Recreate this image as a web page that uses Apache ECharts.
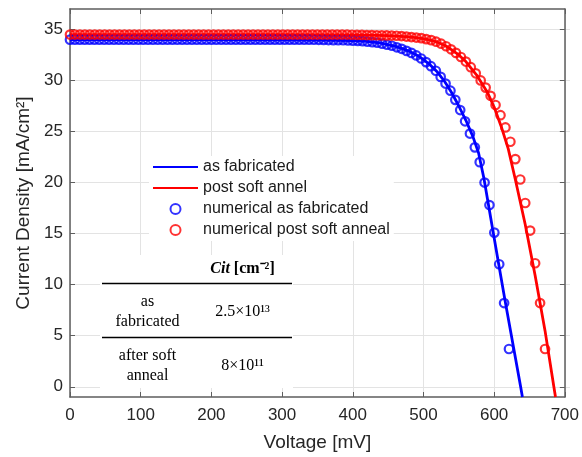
<!DOCTYPE html>
<html>
<head>
<meta charset="utf-8">
<script src="https://cdn.jsdelivr.net/npm/echarts@6/dist/echarts.min.js"></script>
<style>html,body{margin:0;padding:0;background:#fff}#c{width:582px;height:457px}</style>
</head>
<body>
<div id="c"></div>
<script>
// ---- tick labels ----
const xTicks = [0, 100, 200, 300, 400, 500, 600, 700];
const yTicks = [0, 5, 10, 15, 20, 25, 30, 35];

// ---- legend / series names ----
const seriesNames = ['as fabricated', 'post soft annel', 'numerical as fabricated', 'numerical post soft anneal'];

// ---- numerical (circle markers), as fabricated ----
const numFabV = [
  0, 6.9, 13.8, 20.7, 27.6, 34.5, 41.4, 48.3, 55.2, 62.1,
  69, 75.9, 82.8, 89.7, 96.6, 103.5, 110.4, 117.3, 124.2, 131.1,
  138, 144.9, 151.8, 158.7, 165.6, 172.5, 179.4, 186.3, 193.2, 200.1,
  207, 213.9, 220.8, 227.7, 234.6, 241.5, 248.4, 255.3, 262.2, 269.1,
  276, 282.9, 289.8, 296.7, 303.6, 310.5, 317.4, 324.3, 331.2, 338.1,
  345, 351.9, 358.8, 365.7, 372.6, 379.5, 386.4, 393.3, 400.2, 407.1,
  414, 420.9, 427.8, 434.7, 441.6, 448.5, 455.4, 462.3, 469.2, 476.1,
  483, 489.9, 496.8, 503.7, 510.6, 517.5, 524.4, 531.3, 538.2, 545.1,
  552, 558.9, 565.8, 572.7, 579.6, 586.5, 593.4, 600.3, 607.2, 614.1,
  621
];
const numFabJ = [
  34.0, 34.0, 34.0, 34.0, 34.0, 34.0, 34.0, 34.0, 34.0, 34.0,
  34.0, 34.0, 34.0, 34.0, 34.0, 34.0, 34.0, 34.0, 34.0, 34.0,
  34.0, 34.0, 34.0, 34.0, 34.0, 34.0, 34.0, 34.0, 34.0, 34.0,
  34.0, 34.0, 34.0, 34.0, 34.0, 34.0, 34.0, 34.0, 34.0, 34.0,
  34.0, 34.0, 34.0, 34.0, 34.0, 34.0, 34.0, 34.0, 34.0, 34.0,
  33.99, 33.98, 33.97, 33.96, 33.95, 33.95, 33.94, 33.92, 33.9, 33.88,
  33.85, 33.8, 33.75, 33.7, 33.6, 33.5, 33.4, 33.25, 33.1, 32.9,
  32.7, 32.45, 32.15, 31.8, 31.4, 30.95, 30.35, 29.7, 29.0, 28.1,
  27.1, 26.0, 24.8, 23.45, 22.0, 20.0, 17.8, 15.1, 12.0, 8.2,
  3.7
];

// ---- numerical (circle markers), post soft anneal ----
const numAnnV = [
  0, 7, 14, 21, 28, 35, 42, 49, 56, 63,
  70, 77, 84, 91, 98, 105, 112, 119, 126, 133,
  140, 147, 154, 161, 168, 175, 182, 189, 196, 203,
  210, 217, 224, 231, 238, 245, 252, 259, 266, 273,
  280, 287, 294, 301, 308, 315, 322, 329, 336, 343,
  350, 357, 364, 371, 378, 385, 392, 399, 406, 413,
  420, 427, 434, 441, 448, 455, 462, 469, 476, 483,
  490, 497, 504, 511, 518, 525, 532, 539, 546, 553,
  560, 567, 574, 581, 588, 595, 602, 609, 616, 623,
  630, 637, 644, 651, 658, 665, 672
];
const numAnnJ = [
  34.5, 34.5, 34.5, 34.5, 34.5, 34.5, 34.5, 34.5, 34.5, 34.5,
  34.5, 34.5, 34.5, 34.5, 34.5, 34.5, 34.5, 34.5, 34.5, 34.5,
  34.5, 34.5, 34.5, 34.5, 34.5, 34.5, 34.5, 34.5, 34.5, 34.5,
  34.5, 34.5, 34.5, 34.5, 34.5, 34.5, 34.5, 34.5, 34.5, 34.5,
  34.5, 34.5, 34.5, 34.5, 34.5, 34.5, 34.5, 34.5, 34.5, 34.5,
  34.5, 34.5, 34.5, 34.5, 34.5, 34.5, 34.5, 34.48, 34.47, 34.46,
  34.45, 34.44, 34.43, 34.42, 34.41, 34.4, 34.38, 34.35, 34.3, 34.25,
  34.2, 34.15, 34.05, 33.95, 33.8, 33.6, 33.35, 33.05, 32.7, 32.3,
  31.85, 31.3, 30.7, 30.0, 29.3, 28.5, 27.6, 26.6, 25.4, 24.0,
  22.3, 20.3, 18.0, 15.3, 12.1, 8.2, 3.7
];

// ---- fitted lines ----
const lineFabV = [0, 200, 300, 350, 400, 420, 440, 460, 470, 480, 490, 500, 510, 520, 530, 540, 550, 560, 570, 578, 585.6, 597.5, 605.5, 615.3, 627.6, 637.5, 640];
const lineFabJ = [34.0, 34.0, 33.98, 33.96, 33.9, 33.82, 33.65, 33.35, 33.12, 32.85, 32.5, 32.05, 31.5, 30.8, 29.9, 28.8, 27.5, 26.1, 24.5, 22.9, 20.4, 15.6, 12.4, 8.5, 3.8, 0, -1];
const lineAnnV = [0, 300, 400, 450, 480, 500, 510, 520, 530, 540, 550, 560, 575, 590, 600, 610, 620, 630, 644, 658, 672, 684.5, 686.8];
const lineAnnJ = [34.5, 34.5, 34.47, 34.4, 34.27, 34.1, 33.95, 33.75, 33.45, 33.0, 32.5, 31.85, 30.55, 28.9, 27.4, 25.5, 23.3, 20.3, 15.9, 10.9, 5.5, 0, -1];

// ---- inset table ----
const tableHeader = ['Cit', '[cm⁻²]'];
const tableRowLabels = ['as\nfabricated', 'after soft\nanneal'];
const tableRowValues = ['2.5×10¹³', '8×10¹¹'];

const pairs = (xs, ys) => xs.map((x, i) => [x, ys[i]]);

const BLUE = '#0000ff', RED = '#ff0000';
const AX = '#5e5e5e', TXT = '#262626', GRID = '#e3e3e3';
const SANS = '"Liberation Sans", Arial, Helvetica, sans-serif';
const SERIF = '"Liberation Serif", "Times New Roman", serif';

const chart = echarts.init(document.getElementById('c'), null, {renderer: 'canvas'});

const serif16 = {fontFamily: SERIF, fontSize: 16, fill: '#000'};

chart.setOption({
  animation: false,
  backgroundColor: '#fff',
  grid: {left: 70, top: 9, width: 500, height: 393, containLabel: false},
  xAxis: [
    {
      type: 'value', min: xTicks[0], max: xTicks[xTicks.length - 1], interval: 100,
      position: 'bottom',
      name: 'Voltage [mV]', nameLocation: 'middle', nameGap: 36,
      nameTextStyle: {fontFamily: SANS, fontSize: 19, color: TXT},
      axisLine: {show: true, onZero: false, lineStyle: {color: AX, width: 1.5}},
      axisTick: {show: true, inside: true, length: 5, lineStyle: {color: AX, width: 1}},
      axisLabel: {show: true, margin: 10, fontFamily: SANS, fontSize: 17, color: TXT},
      splitLine: {show: true, lineStyle: {color: GRID, width: 1}}
    },
    {
      type: 'value', min: xTicks[0], max: xTicks[xTicks.length - 1], interval: 100,
      position: 'top',
      axisLine: {show: true, onZero: false, lineStyle: {color: AX, width: 1.5}},
      axisTick: {show: true, inside: true, length: 5, lineStyle: {color: AX, width: 1}},
      axisLabel: {show: false},
      splitLine: {show: false}
    }
  ],
  yAxis: [
    {
      type: 'value', min: -1, max: 37,
      position: 'left',
      name: 'Current Density [mA/cm²]', nameLocation: 'middle', nameGap: 33,
      nameTextStyle: {fontFamily: SANS, fontSize: 19, color: TXT},
      axisLine: {show: true, onZero: false, lineStyle: {color: AX, width: 1.5}},
      axisTick: {show: true, inside: true, length: 5, customValues: yTicks, lineStyle: {color: AX, width: 1}},
      axisLabel: {show: true, margin: 7, customValues: yTicks, fontFamily: SANS, fontSize: 17, color: TXT},
      splitLine: {show: false}
    },
    {
      type: 'value', min: -1, max: 37,
      position: 'right',
      axisLine: {show: true, onZero: false, lineStyle: {color: AX, width: 1.5}},
      axisTick: {show: true, inside: true, length: 5, customValues: yTicks, lineStyle: {color: AX, width: 1}},
      axisLabel: {show: false},
      splitLine: {show: false}
    },
    {
      // helper axis: horizontal grid lines drawn as full-width inside ticks
      type: 'value', min: -1, max: 37,
      position: 'left', offset: 0, z: -1,
      axisLine: {show: false},
      axisTick: {show: true, inside: true, length: 500, customValues: yTicks, lineStyle: {color: GRID, width: 1}},
      axisLabel: {show: false},
      splitLine: {show: false}
    }
  ],
  legend: {
    orient: 'vertical', left: 149, top: 156,
    padding: [3, 4, 3, 3], itemGap: 5, itemWidth: 45, itemHeight: 10,
    backgroundColor: '#fff',
    textStyle: {fontFamily: SANS, fontSize: 16, color: '#1a1a1a'},
    data: [
      {name: seriesNames[0], itemStyle: {opacity: 0}},
      {name: seriesNames[1], itemStyle: {opacity: 0}},
      {name: seriesNames[2]},
      {name: seriesNames[3]}
    ],
    selectedMode: false
  },
  series: [
    {
      name: seriesNames[0], type: 'line', xAxisIndex: 0, yAxisIndex: 0,
      data: pairs(lineFabV, lineFabJ), symbol: 'none', smooth: false,
      lineStyle: {color: BLUE, width: 2.8}, itemStyle: {color: BLUE}, clip: true, z: 2
    },
    {
      name: seriesNames[1], type: 'line', xAxisIndex: 0, yAxisIndex: 0,
      data: pairs(lineAnnV, lineAnnJ), symbol: 'none', smooth: false,
      lineStyle: {color: RED, width: 2.8}, itemStyle: {color: RED}, clip: true, z: 2
    },
    {
      name: seriesNames[2], type: 'scatter', xAxisIndex: 0, yAxisIndex: 0,
      data: pairs(numFabV, numFabJ), symbol: 'circle', symbolSize: 8.5,
      itemStyle: {color: 'rgba(0,0,0,0)', borderColor: BLUE, borderWidth: 2.2},
      emphasis: {disabled: true}, z: 3
    },
    {
      name: seriesNames[3], type: 'scatter', xAxisIndex: 0, yAxisIndex: 0,
      data: pairs(numAnnV, numAnnJ), symbol: 'circle', symbolSize: 8.5,
      itemStyle: {color: 'rgba(0,0,0,0)', borderColor: RED, borderWidth: 2.2},
      emphasis: {disabled: true}, z: 4
    }
  ],
  graphic: [
    {type: 'rect', silent: true, z: 50, shape: {x: 100, y: 255, width: 193, height: 133}, style: {fill: '#fff'}},
    {type: 'line', silent: true, z: 51, shape: {x1: 102, y1: 283.5, x2: 292, y2: 283.5}, style: {stroke: '#000', lineWidth: 1.4}},
    {type: 'line', silent: true, z: 51, shape: {x1: 102, y1: 337.5, x2: 292, y2: 337.5}, style: {stroke: '#000', lineWidth: 1.4}},
    {type: 'text', silent: true, z: 52, x: 242.5, y: 268.5, style: {
      text: '{i|' + tableHeader[0] + '} ' + tableHeader[1],
      align: 'center', verticalAlign: 'middle',
      fontFamily: SERIF, fontSize: 16, fontWeight: 'bold', fill: '#000',
      rich: {i: {fontFamily: SERIF, fontSize: 16, fontWeight: 'bold', fontStyle: 'italic', fill: '#000'}}
    }},
    {type: 'text', silent: true, z: 52, x: 147.5, y: 311.7, style: Object.assign({text: tableRowLabels[0], align: 'center', verticalAlign: 'middle', lineHeight: 20}, serif16)},
    {type: 'text', silent: true, z: 52, x: 242.5, y: 311.7, style: Object.assign({text: tableRowValues[0], align: 'center', verticalAlign: 'middle'}, serif16)},
    {type: 'text', silent: true, z: 52, x: 147.5, y: 366, style: Object.assign({text: tableRowLabels[1], align: 'center', verticalAlign: 'middle', lineHeight: 20}, serif16)},
    {type: 'text', silent: true, z: 52, x: 242.5, y: 366, style: Object.assign({text: tableRowValues[1], align: 'center', verticalAlign: 'middle'}, serif16)}
  ]
});
</script>
</body>
</html>
